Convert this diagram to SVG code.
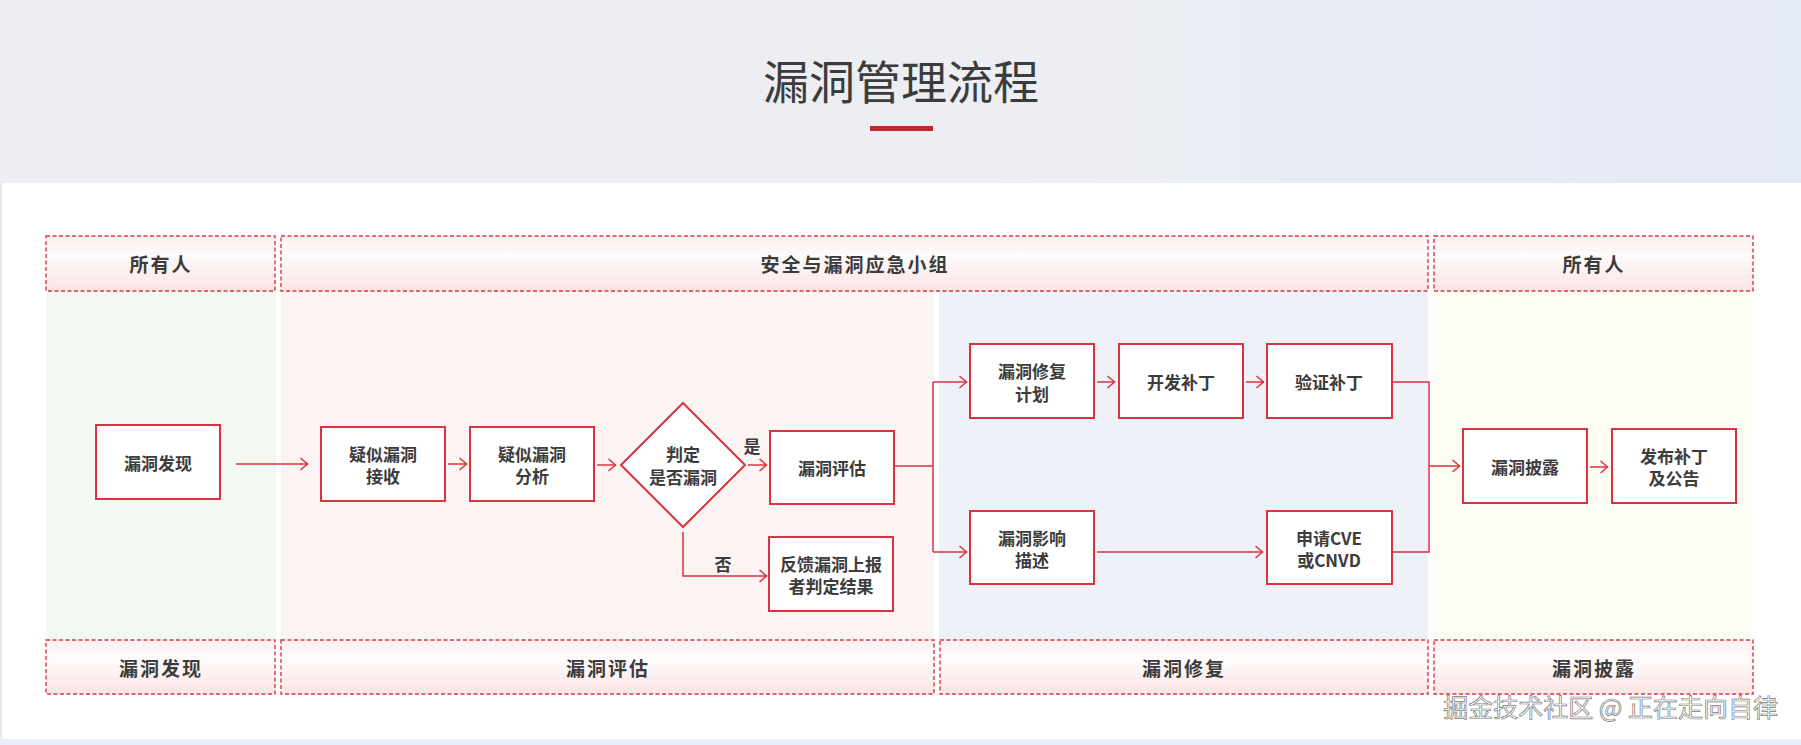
<svg xmlns="http://www.w3.org/2000/svg" width="1801" height="745" viewBox="0 0 1801 745">
<defs>
<linearGradient id="topbg" x1="0" y1="0" x2="1" y2="0">
<stop offset="0" stop-color="#eeeff2"/>
<stop offset="0.6" stop-color="#eceef3"/>
<stop offset="1" stop-color="#e4e9f6"/>
</linearGradient>
<linearGradient id="hdr" x1="0" y1="0" x2="0" y2="1">
<stop offset="0" stop-color="#fcf0f0"/>
<stop offset="0.35" stop-color="#fefbfb"/>
<stop offset="1" stop-color="#fbe4e4"/>
</linearGradient>
<marker id="arr" viewBox="0 0 9 14" refX="8.5" refY="7" markerWidth="9" markerHeight="14" markerUnits="userSpaceOnUse" orient="auto">
<path d="M1,1 L8,7 L1,13" fill="none" stroke="#d8333f" stroke-width="1.5"/>
</marker>
<style>
.t{font-family:"Noto Sans CJK SC","Noto Sans",sans-serif;fill:#3c3c3c;}
.node rect,.node polygon{fill:#fff;stroke:#d8333f;stroke-width:2;}
.node text{font-size:17px;font-weight:700;text-anchor:middle;dominant-baseline:central;}
.lane{stroke:#d33a48;stroke-width:1.4;stroke-dasharray:4 2.5;fill:url(#hdr);}
.lt{font-size:19px;font-weight:700;text-anchor:middle;dominant-baseline:central;letter-spacing:2px;}
.c{fill:none;stroke:#d8333f;stroke-width:1.5;}
.lbl{font-size:17px;font-weight:700;text-anchor:middle;dominant-baseline:central;}
</style>
</defs>
<rect x="0" y="0" width="1801" height="745" fill="#ffffff"/>
<rect x="0" y="0" width="1801" height="183" fill="url(#topbg)"/>
<rect x="0" y="183" width="2" height="556" fill="#e8e9ec"/>
<rect x="0" y="739" width="1801" height="6" fill="#e9eef8"/>
<text class="t" x="901" y="79" font-size="46" text-anchor="middle" dominant-baseline="central" fill="#333">漏洞管理流程</text>
<rect x="870" y="126" width="63" height="5" fill="#c0282e"/>

<g id="lanes">
<rect x="46" y="291" width="230" height="349" fill="#f2f9f3"/>
<rect x="281" y="291" width="653" height="349" fill="#fcf3f3"/>
<rect x="939" y="291" width="489" height="349" fill="#eef2f8"/>
<rect x="1433" y="291" width="319" height="349" fill="#fdfcf3"/>
<rect class="lane" x="46" y="236" width="229" height="55"/>
<rect class="lane" x="281" y="236" width="1147" height="55"/>
<rect class="lane" x="1434" y="236" width="319" height="55"/>
<rect class="lane" x="46" y="640" width="229" height="54"/>
<rect class="lane" x="281" y="640" width="653" height="54"/>
<rect class="lane" x="940" y="640" width="488" height="54"/>
<rect class="lane" x="1434" y="640" width="319" height="54"/>
<text class="t lt" x="161" y="263">所有人</text>
<text class="t lt" x="855" y="263">安全与漏洞应急小组</text>
<text class="t lt" x="1594" y="263">所有人</text>
<text class="t lt" x="161" y="667">漏洞发现</text>
<text class="t lt" x="608" y="667">漏洞评估</text>
<text class="t lt" x="1184" y="667">漏洞修复</text>
<text class="t lt" x="1594" y="667">漏洞披露</text>
</g>

<g id="connectors">
<path class="c" d="M236,464 H308" marker-end="url(#arr)"/>
<path class="c" d="M448,464 H467" marker-end="url(#arr)"/>
<path class="c" d="M597,465 H616" marker-end="url(#arr)"/>
<path class="c" d="M748,465 H767" marker-end="url(#arr)"/>
<path class="c" d="M683,532 V576 H767" marker-end="url(#arr)"/>
<path class="c" d="M894,466 H933"/>
<path class="c" d="M933,382 V552"/>
<path class="c" d="M933,382 H967" marker-end="url(#arr)"/>
<path class="c" d="M933,552 H967" marker-end="url(#arr)"/>
<path class="c" d="M1097,382 H1115" marker-end="url(#arr)"/>
<path class="c" d="M1246,382 H1264" marker-end="url(#arr)"/>
<path class="c" d="M1097,552 H1263" marker-end="url(#arr)"/>
<path class="c" d="M1393,382 H1429 V552 H1393"/>
<path class="c" d="M1429,466 H1460" marker-end="url(#arr)"/>
<path class="c" d="M1590,467 H1608" marker-end="url(#arr)"/>
<text class="t lbl" x="752" y="445">是</text>
<text class="t lbl" x="723" y="563">否</text>
</g>

<g id="n1" class="node"><rect x="96" y="425" width="124" height="74"/><text class="t" x="158" y="462">漏洞发现</text></g>
<g id="n2" class="node"><rect x="321" y="427" width="124" height="74"/><text class="t" x="383" y="453">疑似漏洞</text><text class="t" x="383" y="475">接收</text></g>
<g id="n3" class="node"><rect x="470" y="427" width="124" height="74"/><text class="t" x="532" y="453">疑似漏洞</text><text class="t" x="532" y="475">分析</text></g>
<g id="n4" class="node"><polygon points="683,403 745,465 683,527 621,465"/><text class="t" x="683" y="453">判定</text><text class="t" x="683" y="476">是否漏洞</text></g>
<g id="n5" class="node"><rect x="770" y="431" width="124" height="73"/><text class="t" x="832" y="467">漏洞评估</text></g>
<g id="n6" class="node"><rect x="769" y="537" width="124" height="74"/><text class="t" x="831" y="563">反馈漏洞上报</text><text class="t" x="831" y="585">者判定结果</text></g>
<g id="n7" class="node"><rect x="970" y="344" width="124" height="74"/><text class="t" x="1032" y="370">漏洞修复</text><text class="t" x="1032" y="393">计划</text></g>
<g id="n8" class="node"><rect x="1119" y="344" width="124" height="74"/><text class="t" x="1181" y="381">开发补丁</text></g>
<g id="n9" class="node"><rect x="1267" y="344" width="125" height="74"/><text class="t" x="1329" y="381">验证补丁</text></g>
<g id="n10" class="node"><rect x="970" y="511" width="124" height="73"/><text class="t" x="1032" y="537">漏洞影响</text><text class="t" x="1032" y="559">描述</text></g>
<g id="n11" class="node"><rect x="1267" y="511" width="125" height="73"/><text class="t" x="1329" y="537">申请CVE</text><text class="t" x="1329" y="559">或CNVD</text></g>
<g id="n12" class="node"><rect x="1463" y="429" width="124" height="74"/><text class="t" x="1525" y="466">漏洞披露</text></g>
<g id="n13" class="node"><rect x="1612" y="429" width="124" height="74"/><text class="t" x="1674" y="455">发布补丁</text><text class="t" x="1674" y="477">及公告</text></g>

<text x="1778" y="717" font-family="Noto Sans CJK SC, Noto Sans, sans-serif" font-size="25" text-anchor="end" fill="#ffffff" stroke="#7a7a7a" stroke-width="0.7">掘金技术社区 @ 正在走向自律</text>
</svg>
